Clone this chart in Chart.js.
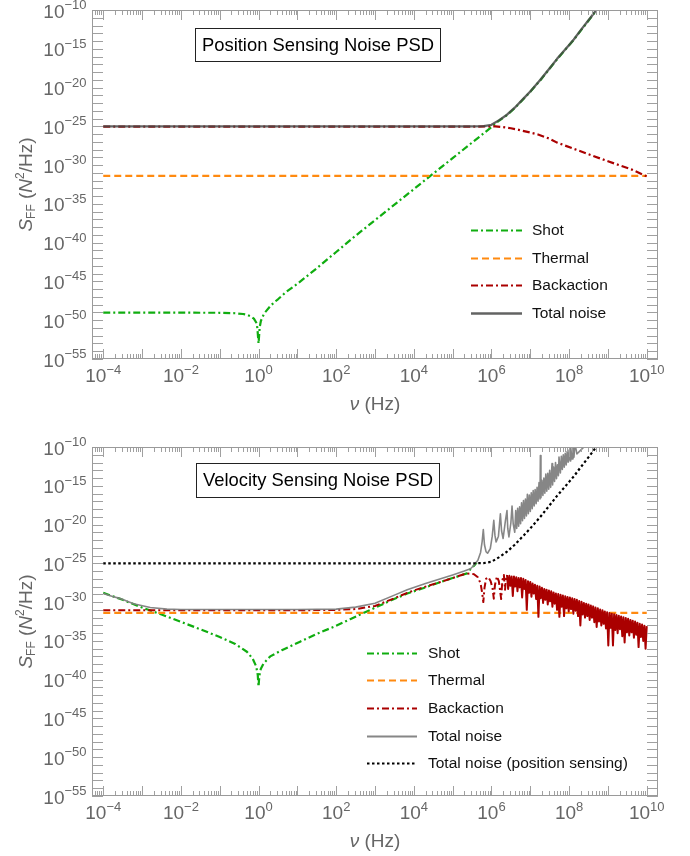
<!DOCTYPE html>
<html>
<head>
<meta charset="utf-8">
<script src="https://cdn.jsdelivr.net/npm/chart.js@4.4.1/dist/chart.umd.min.js"></script>
<style>
html,body{margin:0;padding:0;background:#ffffff;}
#wrap{position:relative;width:690px;height:856px;}
canvas{display:block;}
</style>
</head>
<body>
<div id="wrap">
<canvas id="c1" width="690" height="428"></canvas>
<canvas id="c2" width="690" height="428"></canvas>
</div>
<script>
// ---------------- DATA (pairs: [log10 frequency ν (Hz), log10 S_FF (N^2/Hz)]) ----------------
const xTickExps = [-4, -2, 0, 2, 4, 6, 8, 10];
const yTickExps = [-10, -15, -20, -25, -30, -35, -40, -45, -50, -55];

const thermalPts = [[-4, -31.4], [10, -31.4]];

// Position sensing panel
const posShotPts = [
  [-4,-49.03],[-3,-49.03],[-2,-49.03],[-1,-49.04],[-0.6,-49.1],[-0.4,-49.2],[-0.3,-49.3],
  [-0.2,-49.5],[-0.12,-49.8],[-0.06,-50.3],[-0.03,-51.0],[0,-53.0],[0.03,-50.9],[0.06,-50.1],
  [0.1,-49.6],[0.15,-49.1],[0.2,-48.8],[0.3,-48.2],[0.4,-47.7],[0.5,-47.3],[0.7,-46.4],
  [1.0,-45.3],[1.5,-43.3],[2.0,-41.2],[2.5,-39.1],[3,-37.1],[4,-33.1],[5,-29.1],[5.5,-27.1],
  [6.0,-25.1],[6.2,-24.25],[6.4,-23.55],[6.6,-22.65],[6.83,-21.45],[7.0,-20.55],[7.26,-19.05],
  [7.5,-17.55],[7.69,-16.35],[8.0,-14.55],[8.12,-13.85],[8.3,-12.65],[8.55,-11.05],[8.7,-10.05],[9.0,-8.05]
];
const posBackPts = [
  [-4,-25.05],[5.5,-25.05],[5.9,-25.0],[6.1,-25.0],[6.3,-25.1],[6.5,-25.25],[6.7,-25.45],
  [7.0,-25.8],[7.2,-26.05],[7.5,-26.6],[7.69,-27.1],[8.12,-27.9],[8.64,-28.85],[9.0,-29.5],
  [9.6,-30.55],[10,-31.45]
];
const posTotalPts = [
  [-4,-25.0],[5.5,-25.0],[5.8,-24.97],[6.0,-24.8],[6.2,-24.2],[6.4,-23.5],[6.6,-22.6],
  [6.83,-21.4],[7.0,-20.5],[7.26,-19.0],[7.5,-17.5],[7.69,-16.3],[8.0,-14.5],[8.12,-13.8],
  [8.3,-12.6],[8.55,-11.0],[8.7,-10.0],[9.0,-8.0]
];

// Velocity sensing panel
const velShotPts = [
  [-4,-28.8],[-3.5,-29.7],[-3,-30.7],[-2.5,-31.6],[-2,-32.55],[-1.5,-33.5],[-1,-34.5],
  [-0.6,-35.4],[-0.3,-36.4],[-0.15,-37.3],[-0.06,-38.3],[-0.02,-39.4],[0,-40.9],[0.02,-39.5],
  [0.06,-38.6],[0.13,-37.9],[0.3,-37.0],[0.6,-36.2],[1.07,-35.1],[1.5,-34.1],[1.93,-33.2],
  [2.36,-32.2],[2.97,-30.8],[3.4,-29.8],[3.83,-28.9],[4.3,-28.1],[4.69,-27.4],[5.0,-26.9],
  [5.37,-26.3],[5.46,-25.75],[5.55,-25.3],[5.62,-24.9]
];
const velBackPts = [
  [-4,-31.05],[1,-31.05],[2.0,-31.0],[2.5,-30.9],[3.0,-30.5],[3.5,-29.5],[3.83,-28.8],[4.3,-28.0],
  [4.69,-27.4],[5.0,-26.9],[5.29,-26.4],[5.45,-26.3],[5.55,-26.4],[5.65,-26.8],[5.72,-27.6],
  [5.76,-28.8],[5.79,-30.0],[5.82,-28.2],[5.86,-27.0],[5.92,-26.8],[5.98,-27.3],[6.03,-28.3],
  [6.06,-29.55],[6.09,-27.8],[6.14,-26.7],[6.19,-27.3],[6.25,-29.6],[6.28,-27.2],[6.32,-26.5],
  [6.35,-28.4],[6.37,-27.2],
  [6.40,-26.5],[6.43,-28.3],[6.46,-26.6],[6.49,-27.9],[6.52,-26.7],[6.55,-29.2],[6.58,-26.7],
  [6.61,-28.0],[6.64,-26.8],[6.67,-28.6],[6.70,-26.9],[6.73,-28.1],[6.76,-26.9],[6.79,-29.4],
  [6.82,-27.0],[6.85,-28.3],[6.88,-27.15],[6.91,-31.0],[6.94,-27.3],[6.97,-28.8],[7.00,-27.4],
  [7.03,-29.3],[7.06,-27.6],[7.09,-28.9],[7.12,-27.75],[7.15,-29.6],[7.18,-27.9],[7.21,-31.9],
  [7.24,-28.0],[7.27,-29.5],[7.30,-28.15],[7.33,-30.1],[7.36,-28.3],[7.39,-29.7],[7.42,-28.4],
  [7.45,-30.3],[7.48,-28.5],[7.51,-29.9],[7.54,-28.6],[7.57,-30.6],[7.60,-28.75],[7.63,-30.2],
  [7.66,-28.9],[7.69,-31.0],[7.72,-28.95],[7.75,-31.9],[7.78,-29.05],[7.81,-30.6],[7.84,-29.15],
  [7.87,-31.8],[7.90,-29.25],[7.93,-30.8],[7.96,-29.35],[7.99,-31.2],[8.02,-29.4],[8.05,-30.9],
  [8.08,-29.5],[8.11,-31.5],[8.14,-29.6],[8.17,-31.1],[8.20,-29.7],[8.23,-31.8],[8.26,-29.85],
  [8.29,-33.0],[8.32,-29.95],[8.35,-31.6],[8.38,-30.1],[8.41,-32.0],[8.44,-30.2],[8.47,-31.8],
  [8.50,-30.3],[8.53,-32.3],[8.56,-30.45],[8.59,-32.0],[8.62,-30.55],[8.65,-32.6],[8.68,-30.7],
  [8.71,-33.2],[8.74,-30.8],[8.77,-32.5],[8.80,-30.95],[8.83,-33.0],[8.86,-31.05],[8.89,-32.8],
  [8.92,-31.2],[8.95,-33.4],[8.98,-31.3],[9.01,-35.6],[9.04,-31.4],[9.07,-33.3],[9.10,-31.5],
  [9.13,-35.6],[9.16,-31.55],[9.19,-33.6],[9.22,-31.65],[9.25,-34.0],[9.28,-31.75],[9.31,-33.5],
  [9.34,-31.85],[9.37,-34.4],[9.40,-31.95],[9.43,-35.2],[9.46,-32.05],[9.49,-33.9],[9.52,-32.15],
  [9.55,-34.3],[9.58,-32.3],[9.61,-33.9],[9.64,-32.4],[9.67,-34.6],[9.70,-32.5],[9.73,-34.2],
  [9.76,-32.65],[9.79,-35.8],[9.82,-32.8],[9.85,-34.5],[9.88,-32.9],[9.91,-35.0],[9.94,-33.05],
  [9.97,-36.0],[10.0,-33.1]
];
const velTotalPts = [
  [-4,-28.9],[-3.8,-29.2],[-3.56,-29.55],[-3.22,-30.2],[-2.79,-30.7],[-2.36,-30.9],[-2,-30.95],
  [1,-30.95],[2.0,-30.9],[2.5,-30.65],[3.0,-30.15],[3.5,-29.1],[3.83,-28.4],[4.3,-27.6],
  [4.69,-27.0],[5.0,-26.5],[5.3,-26.0],[5.46,-25.7],[5.55,-25.25],[5.65,-24.6],[5.72,-23.6],
  [5.76,-22.2],[5.79,-20.65],[5.82,-22.6],[5.86,-23.5],[5.9,-23.7],[5.97,-23.1],[6.02,-21.5],
  [6.06,-19.45],[6.09,-21.4],[6.12,-22.25],[6.18,-21.5],[6.23,-18.6],[6.26,-20.8],[6.30,-21.8],
  [6.36,-19.5],[6.40,-18.2],[6.42,-20.5],[6.45,-21.6],[6.50,-19.8],[6.53,-17.6],[6.56,-19.9],
  [6.60,-21.0],[6.625,-18.2],[6.65,-20.5],[6.675,-17.9],[6.70,-20.2],[6.725,-17.7],[6.75,-19.9],
  [6.775,-17.2],[6.80,-19.5],[6.825,-16.9],[6.85,-19.2],[6.875,-16.7],[6.90,-18.9],[6.925,-16.1],
  [6.95,-18.6],[6.975,-16.2],[7.00,-18.3],[7.025,-15.9],[7.05,-17.95],[7.075,-15.6],[7.10,-17.6],
  [7.125,-15.5],[7.15,-17.3],[7.175,-15.2],[7.20,-17.0],[7.225,-14.6],[7.25,-16.7],[7.26,-11.1],
  [7.275,-16.55],[7.30,-14.3],[7.325,-16.25],[7.35,-14.0],[7.375,-15.95],[7.40,-13.5],[7.425,-15.7],
  [7.45,-13.4],[7.475,-15.45],[7.50,-13.0],[7.525,-15.2],[7.56,-12.15],[7.575,-14.9],[7.60,-12.6],
  [7.625,-14.45],[7.65,-12.0],[7.675,-14.1],[7.70,-12.3],[7.725,-13.7],[7.74,-11.3],[7.775,-13.35],
  [7.80,-11.2],[7.825,-12.9],[7.85,-11.0],[7.875,-12.6],[7.90,-10.8],[7.925,-12.3],[7.95,-10.6],
  [7.975,-11.95],[8.00,-10.4],[8.025,-11.8],[8.04,-10.0],[8.075,-11.55],[8.10,-9.7],[8.125,-11.3],
  [8.15,-9.5],[8.20,-10.9],[8.30,-10.4],[8.40,-9.9],[8.60,-9.0]
];

// ---------------- STYLE ----------------
const FONT = '"Liberation Sans", Arial, Helvetica, sans-serif';
const MAIN_FONT = '19px ' + FONT;
const SUP_FONT = '13px ' + FONT;
const GRAY_TXT = '#666666';
const C_SHOT = '#10ad10';
const C_THERM = '#ff8a10';
const C_BACK = '#aa0000';
const DASH_DOT = [7, 3, 2, 3];
const DASHED = [7, 4];
const DOTTED = [2.5, 2.5];

function toXY(pts) { return pts.map(p => ({ x: Math.pow(10, p[0]), y: Math.pow(10, p[1]) })); }
function mkDs(label, pts, color, dash, width, order) {
  return { label, data: toXY(pts), borderColor: color, borderDash: dash, borderWidth: width,
    order, pointRadius: 0, pointHoverRadius: 0, tension: 0, fill: false,
    borderJoinStyle: 'round', borderCapStyle: 'butt' };
}
function expText(e) { return e < 0 ? '\u2212' + (-e) : String(e); }

function drawPieces(ctx, pieces, cx, baseY) {
  let total = 0;
  for (const p of pieces) { ctx.font = p.font; p.w = ctx.measureText(p.t).width; total += p.w; }
  let x = cx - total / 2;
  ctx.textAlign = 'left';
  for (const p of pieces) { ctx.font = p.font; ctx.fillText(p.t, x, baseY + (p.dy || 0)); x += p.w; }
}

function makeDecor(cfg) {
  return {
    id: 'decor',
    afterDatasetsDraw(chart) {
      const ctx = chart.ctx, ca = chart.chartArea, xs = chart.scales.x, ys = chart.scales.y;
      const L = Math.round(ca.left), R = Math.round(ca.right), T = Math.round(ca.top), B = Math.round(ca.bottom);
      ctx.save();
      ctx.setLineDash([]);
      // ticks
      ctx.strokeStyle = '#a0a0a0'; ctx.lineWidth = 1;
      ctx.beginPath();
      for (let e = -5; e <= 10; e++) {
        for (let m = 1; m <= 9; m++) {
          const v = m * Math.pow(10, e);
          if (v < xs.min || v > xs.max) continue;
          const px = Math.round(xs.getPixelForValue(v)) + 0.5;
          const len = m === 1 ? 10 : 5;
          ctx.moveTo(px, B); ctx.lineTo(px, B - len);
          ctx.moveTo(px, T); ctx.lineTo(px, T + len);
        }
      }
      for (let e = -55; e <= -10; e++) {
        const py = Math.round(ys.getPixelForValue(Math.pow(10, e))) + 0.5;
        ctx.moveTo(L, py); ctx.lineTo(L + 11, py);
        ctx.moveTo(R, py); ctx.lineTo(R - 11, py);
      }
      ctx.stroke();
      // frame
      ctx.strokeStyle = '#9a9a9a';
      ctx.strokeRect(L + 0.5, T + 0.5, R - L - 1, B - T - 1);

      // tick labels
      ctx.fillStyle = GRAY_TXT;
      ctx.textBaseline = 'alphabetic';
      ctx.textAlign = 'left';
      for (const e of xTickExps) {
        const px = xs.getPixelForValue(Math.pow(10, e));
        ctx.font = MAIN_FONT; const w1 = ctx.measureText('10').width;
        const es = expText(e);
        ctx.font = SUP_FONT; const w2 = ctx.measureText(es).width;
        const x0 = px - (w1 + w2) / 2;
        ctx.font = MAIN_FONT; ctx.fillText('10', x0, B + 23);
        ctx.font = SUP_FONT; ctx.fillText(es, x0 + w1, B + 23 - 8.5);
      }
      for (const e of yTickExps) {
        const py = ys.getPixelForValue(Math.pow(10, e));
        const es = expText(e);
        ctx.font = SUP_FONT; const w2 = ctx.measureText(es).width;
        const xr = L - 5.5;
        ctx.font = MAIN_FONT; const w1 = ctx.measureText('10').width;
        ctx.fillText('10', xr - w2 - w1, py + 7.5);
        ctx.font = SUP_FONT; ctx.fillText(es, xr - w2, py + 7.5 - 8.5);
      }
      // axis titles
      drawPieces(ctx, [
        { t: '\u03bd', font: 'italic 19px ' + FONT },
        { t: ' (Hz)', font: '19px ' + FONT }
      ], (L + R) / 2, B + 51);
      ctx.save();
      ctx.translate(31.5, (T + B) / 2);
      ctx.rotate(-Math.PI / 2);
      drawPieces(ctx, [
        { t: 'S', font: 'italic 19px ' + FONT },
        { t: 'FF', font: '12px ' + FONT, dy: 3 },
        { t: ' (', font: '19px ' + FONT },
        { t: 'N', font: 'italic 19px ' + FONT },
        { t: '2', font: '12px ' + FONT, dy: -7.5 },
        { t: '/Hz)', font: '19px ' + FONT }
      ], 0, 0);
      ctx.restore();

      // title box
      const bx = cfg.box;
      ctx.fillStyle = '#ffffff';
      ctx.fillRect(bx.x, bx.y, bx.w, bx.h);
      ctx.strokeStyle = '#222222'; ctx.lineWidth = 1;
      ctx.strokeRect(bx.x + 0.5, bx.y + 0.5, bx.w, bx.h);
      ctx.fillStyle = '#000000';
      ctx.font = '18.4px ' + FONT;
      ctx.textAlign = 'center'; ctx.textBaseline = 'middle';
      ctx.fillText(bx.text, bx.x + bx.w / 2 + 0.5, bx.y + bx.h / 2 + 1);

      // legend (from dataset styles & labels, in dataset order)
      const lg = cfg.legend;
      ctx.font = '15.5px ' + FONT;
      ctx.textAlign = 'left'; ctx.textBaseline = 'middle';
      chart.data.datasets.forEach((d, i) => {
        const y = Math.round(lg.y0 + i * lg.dy) + 0.5;
        ctx.save();
        ctx.strokeStyle = d.borderColor; ctx.lineWidth = d.legendWidth || d.borderWidth;
        ctx.setLineDash(d.borderDash || []);
        ctx.beginPath(); ctx.moveTo(lg.x, y); ctx.lineTo(lg.x + lg.len, y); ctx.stroke();
        ctx.restore();
        ctx.fillStyle = '#111111';
        ctx.fillText(d.label, lg.tx, y + 0.5);
      });
      ctx.restore();
    }
  };
}

function makeChart(id, datasets, pad, cfg) {
  const logScale = (min, max) => ({
    type: 'logarithmic', display: false, min, max, bounds: 'data',
    ticks: { display: false }, grid: { display: false }
  });
  return new Chart(document.getElementById(id), {
    type: 'line',
    data: { datasets },
    options: {
      responsive: false, animation: false, devicePixelRatio: 1,
      layout: { padding: pad },
      scales: { x: logScale(Math.pow(10, -4.29), Math.pow(10, 10.29)), y: logScale(1e-55, 1e-10) },
      plugins: { legend: { display: false }, tooltip: { enabled: false }, title: { display: false } },
      events: []
    },
    plugins: [makeDecor(cfg)]
  });
}

// Top: position sensing
makeChart('c1', [
  mkDs('Shot', posShotPts, C_SHOT, DASH_DOT, 2.2, 4),
  mkDs('Thermal', thermalPts, C_THERM, DASHED, 2.2, 3),
  mkDs('Backaction', posBackPts, C_BACK, DASH_DOT, 2.2, 2),
  mkDs('Total noise', posTotalPts, 'rgba(70,72,70,0.85)', [], 2.3, 1)
], { left: 92, right: 32, top: 10, bottom: 69 }, {
  box: { x: 195, y: 28, w: 245, h: 33, text: 'Position Sensing Noise PSD' },
  legend: { x: 471, len: 51, tx: 532, y0: 230, dy: 27.6 }
});

// Bottom: velocity sensing
const velTotalDs = mkDs('Total noise', velTotalPts, 'rgba(128,128,128,0.95)', [], 1.6, 1);
velTotalDs.legendWidth = 2.2;
const velBackDs = mkDs('Backaction', velBackPts, C_BACK, DASH_DOT, 2.0, 2);
velBackDs.legendWidth = 2.2;
// the densely oscillating part reads as a solid band
velBackDs.segment = { borderDash: c => (c.p0.parsed.x >= Math.pow(10, 6.39) ? [] : undefined) };
makeChart('c2', [
  mkDs('Shot', velShotPts, C_SHOT, DASH_DOT, 2.2, 4),
  mkDs('Thermal', thermalPts, C_THERM, DASHED, 2.2, 3),
  velBackDs,
  velTotalDs,
  mkDs('Total noise (position sensing)', posTotalPts, '#000000', DOTTED, 2.2, 0)
], { left: 92, right: 32, top: 19, bottom: 60 }, {
  box: { x: 196, y: 35, w: 243, h: 34, text: 'Velocity Sensing Noise PSD' },
  legend: { x: 367, len: 50, tx: 428, y0: 224.5, dy: 27.7 }
});
</script>
</body>
</html>
